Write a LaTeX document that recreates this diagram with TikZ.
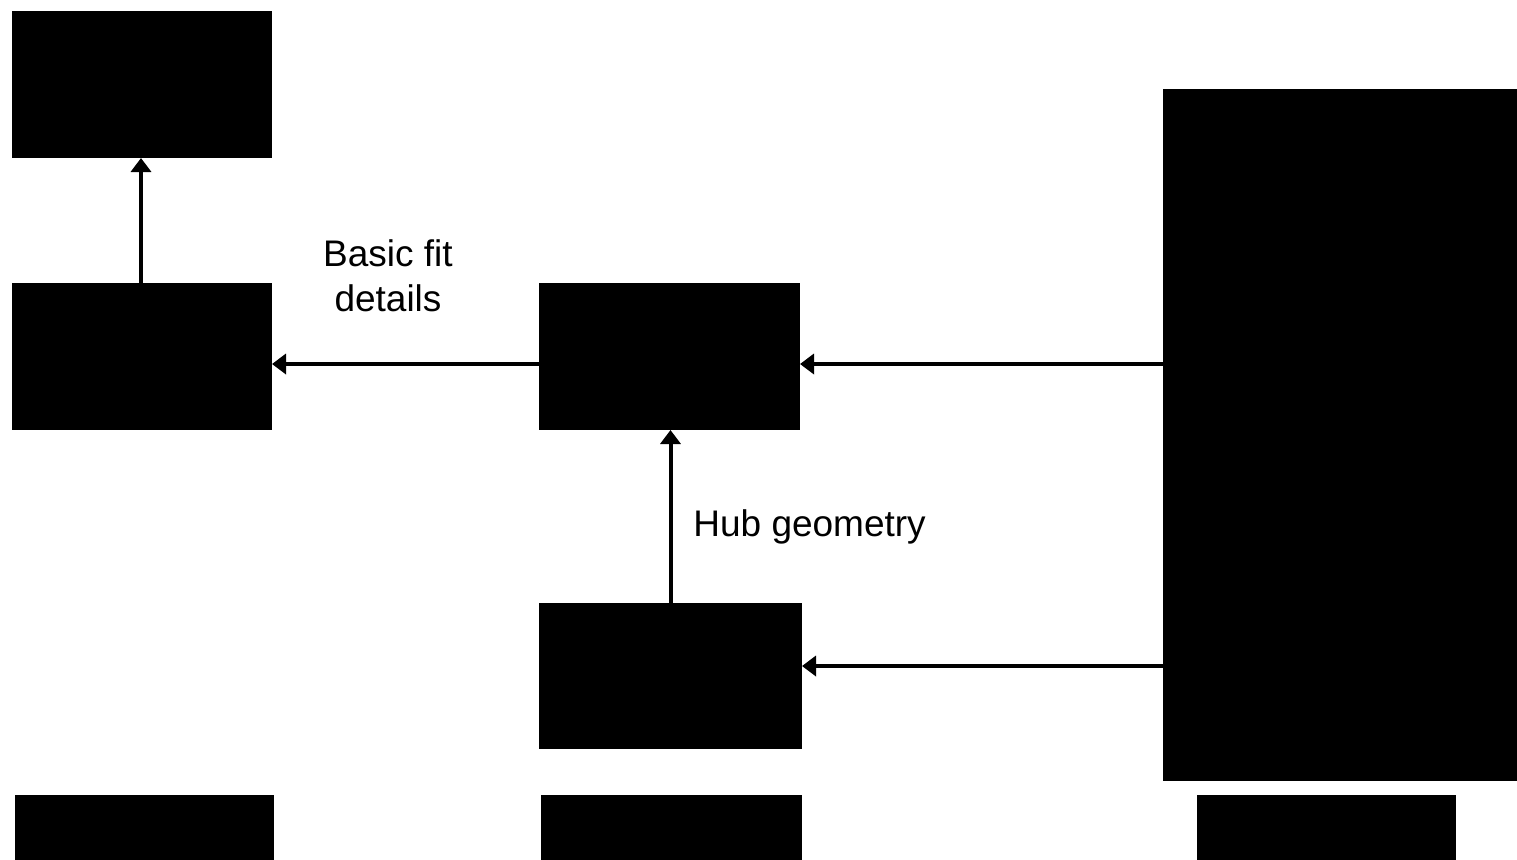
\documentclass[tikz,border=0pt]{standalone}
\usepackage{fontspec}
\setmainfont{Liberation Sans}
\usetikzlibrary{arrows.meta,calc}
\begin{document}
\begin{tikzpicture}[x=0.5pt,y=-0.5pt,
  blk/.style={draw=none,fill=black,inner sep=0pt,outer sep=0pt},
  arr/.style={line width=2pt,-{Triangle[length=7pt,width=10pt]}},
  lbl/.style={font=\fontsize{18.5}{22.5}\selectfont,align=center,inner sep=0pt}]
\useasboundingbox (0,0) rectangle (1517,859);
\clip (0,0) rectangle (1517,859);
\fill[white] (0,0) rectangle (1517,859);
\node[blk,minimum width=130pt,minimum height=73.5pt] (A) at (142,84.5) {};
\node[blk,minimum width=130pt,minimum height=73.5pt] (B) at (142,356.5) {};
\node[blk,minimum width=130.5pt,minimum height=73.5pt] (C) at (669.5,356.5) {};
\node[blk,minimum width=131.5pt,minimum height=73pt] (D) at (670.5,676) {};
\node[blk,minimum width=177pt,minimum height=346pt] (E) at (1340,435) {};
\node[blk,minimum width=129.5pt,minimum height=73.5pt] (F) at (144.5,868.5) {};
\node[blk,minimum width=130.5pt,minimum height=73.5pt] (G) at (671.5,868.5) {};
\node[blk,minimum width=129.5pt,minimum height=73.5pt] (H) at (1326.5,868.5) {};
\draw[arr] ($(B.north)+(-1,0)$) -- ($(A.south)+(-1,0)$);
\draw[arr] ($(C.west)+(0,7.5)$) -- ($(B.east)+(0,7.5)$);
\draw[arr] ($(E.west |- C.east)+(0,7.5)$) -- ($(C.east)+(0,7.5)$);
\draw[arr] (D.north) -- (D.north |- C.south);
\draw[arr] ($(E.west |- D.east)+(0,-10)$) -- ($(D.east)+(0,-10)$);
\node[lbl] (L1) at (388,276) {Basic fit\\details};
\node[lbl,anchor=west] (L2) at (693,527) {Hub geometry};
\end{tikzpicture}
\end{document}
